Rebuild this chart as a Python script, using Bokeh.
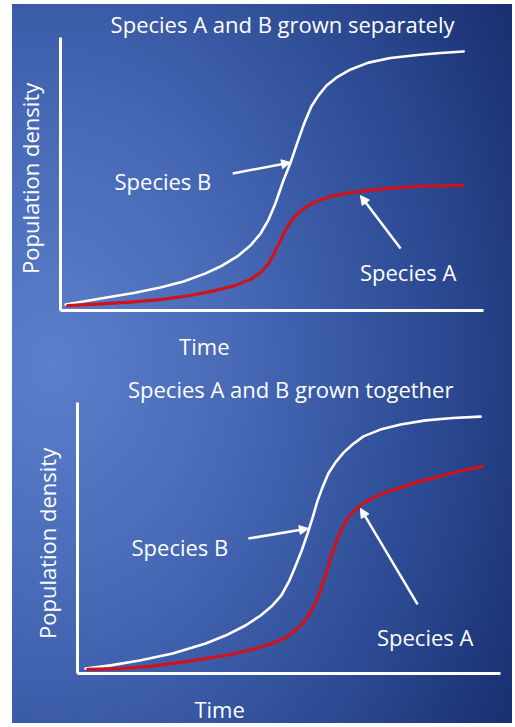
import math
from bokeh.plotting import figure
from bokeh.layouts import column
from bokeh.models import Label, Arrow, NormalHead, Range1d, LinearAxis
from bokeh.embed import file_html
from bokeh.resources import INLINE

# ---------------- data ----------------
titles = ["Species A and B grown separately", "Species A and B grown together"]
x_label = "Time"
y_label = "Population density"
series_names = ["Species A", "Species B"]

# Panel 1: grown separately
sep_time_b = [1.2, 9.5, 17.3, 23.6, 29.1, 34.3, 38.3, 41.8, 44.9, 47.3, 49.2, 50.8, 52.7, 54.4,
              56.0, 57.7, 59.3, 61.0, 62.9, 65.2, 68.6, 72.8, 78.0, 84.4, 89.8, 95.3]
sep_pop_b = [2.2, 4.4, 6.4, 8.4, 10.6, 13.6, 16.5, 19.8, 23.8, 28.2, 33.3, 39.2, 47.6, 54.2,
             61.5, 68.9, 74.7, 78.8, 82.4, 85.3, 88.3, 90.8, 92.5, 93.6, 94.3, 94.9]
sep_time_a = [1.7, 9.5, 16.5, 23.6, 30.7, 36.6, 41.4, 44.9, 47.3, 49.2, 50.6, 52.0, 53.4, 54.8,
              56.3, 58.2, 60.5, 63.8, 68.6, 74.5, 80.4, 87.5, 95.0]
sep_pop_a = [1.8, 2.4, 3.1, 4.0, 5.5, 7.3, 9.2, 11.4, 13.9, 17.2, 21.2, 25.6, 30.0, 33.3,
             35.9, 38.1, 39.9, 41.8, 43.2, 44.3, 45.1, 45.6, 45.8]

# Panel 2: grown together
tog_time_b = [1.9, 7.8, 14.7, 22.5, 30.3, 35.0, 39.7, 43.3, 46.1, 48.2, 50.1, 51.5, 53.0, 54.4,
              55.6, 56.7, 57.9, 59.3, 61.0, 62.9, 65.0, 67.6, 71.6, 76.4, 82.3, 88.7, 95.3]
tog_pop_b = [1.8, 3.0, 4.8, 7.4, 11.1, 14.0, 17.7, 21.4, 25.1, 28.8, 34.3, 39.5, 45.4, 51.7,
             57.6, 63.5, 68.6, 73.8, 77.9, 81.5, 84.5, 87.5, 90.0, 91.9, 93.4, 94.3, 94.8]
tog_time_a = [2.4, 10.2, 17.3, 24.3, 30.3, 36.2, 42.1, 46.1, 49.2, 51.5, 53.4, 55.1, 56.5, 57.7,
              58.9, 60.0, 61.2, 62.4, 63.8, 65.5, 67.4, 70.0, 72.8, 76.4, 80.6, 84.6, 88.7, 92.2, 95.7]
tog_pop_a = [1.5, 1.8, 2.6, 4.1, 5.5, 7.0, 9.2, 11.1, 13.3, 15.9, 18.8, 22.5, 26.9, 31.7,
             37.6, 43.5, 48.7, 53.1, 57.2, 60.1, 62.7, 64.9, 66.8, 68.6, 70.8, 72.3, 74.0, 75.3, 76.4]

FONT = "Open Sans"
FS = "22px"
RED = "#d0121b"


def panel(title, tb, pb, ta, pa, height, xr, yr, arrow_b, arrow_a, lab_pos):
    p = figure(width=500, height=height, output_backend="svg", toolbar_location=None,
               x_range=Range1d(*xr), y_range=Range1d(*yr),
               x_axis_location=None, y_axis_location=None,
               min_border=0, min_border_left=0, min_border_right=0,
               min_border_top=0, min_border_bottom=0)
    p.frame_align = False
    p.background_fill_alpha = 0
    p.border_fill_alpha = 0
    p.outline_line_color = None
    p.grid.visible = False
    for loc in ("below", "left"):
        ax = LinearAxis(fixed_location=0, bounds=(0, 100))
        ax.axis_line_color = "white"
        ax.axis_line_width = 3
        ax.major_tick_line_color = None
        ax.minor_tick_line_color = None
        ax.major_label_text_font_size = "0px"
        ax.major_label_text_alpha = 0
        p.add_layout(ax, loc)

    p.line(tb, pb, line_color="white", line_width=2.6, line_cap="round", line_join="round")
    p.line(ta, pa, line_color=RED, line_width=3.2, line_cap="round", line_join="round")

    for (xs, ys, xe, ye) in (arrow_b, arrow_a):
        p.add_layout(Arrow(end=NormalHead(size=9, fill_color="white", line_color="white"),
                           x_start=xs, y_start=ys, x_end=xe, y_end=ye,
                           line_color="white", line_width=2.5))

    texts = [(title, lab_pos["title"], 0),
             (x_label, lab_pos["time"], 0),
             (y_label, lab_pos["pop"], math.pi / 2),
             (series_names[1], lab_pos["b"], 0),
             (series_names[0], lab_pos["a"], 0)]
    for txt, (x, y), ang in texts:
        p.add_layout(Label(x=x, y=y, text=txt, angle=ang, text_color="white",
                           text_font=FONT, text_font_size=FS,
                           text_align="center", text_baseline="middle"))
    return p


p1 = panel(titles[0], sep_time_b, sep_pop_b, sep_time_a, sep_pop_a, 366,
           (-11.35, 106.86), (-21.98, 112.09),
           (40.7, 50.2, 54.4, 54.2), (80.4, 22.7, 70.9, 42.1),
           {"title": (52.5, 105.0), "time": (34.0, -12.85), "pop": (-7.3, 48.4),
            "b": (24.2, 47.3), "a": (82.2, 14.2)})
p2 = panel(titles[1], tog_time_b, tog_pop_b, tog_time_a, tog_pop_a, 353,
           (-15.37, 102.84), (-18.45, 111.81),
           (40.4, 49.8, 54.6, 53.5), (80.4, 25.5, 66.9, 60.9),
           {"title": (50.4, 105.1), "time": (33.6, -13.0), "pop": (-7.3, 48.0),
            "b": (24.2, 46.8), "a": (82.2, 13.6)})

layout = column(p1, p2, spacing=0, margin=(4, 0, 0, 12),
                styles={"background": "radial-gradient(ellipse 110% 100% at 8% 50%, #5c7fcc 0%, #4668b5 35%, #2c4a93 70%, #172c6c 100%)"})

open("out.html", "w").write(file_html(layout, INLINE))
